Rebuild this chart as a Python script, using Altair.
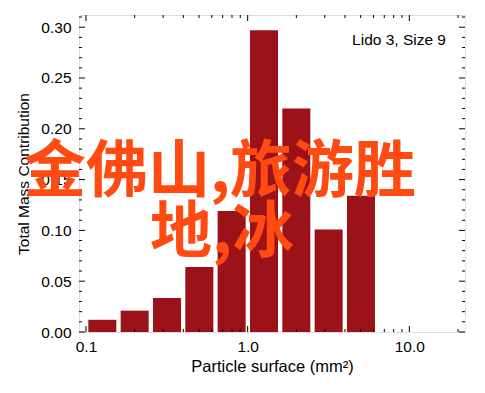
import altair as alt
import pandas as pd

# ---- data ----
bin_lo = [0.1, 0.1585, 0.2512, 0.3981, 0.631, 1.0, 1.585, 2.512, 3.981]
bin_hi = [0.1585, 0.2512, 0.3981, 0.631, 1.0, 1.585, 2.512, 3.981, 6.31]
mass = [0.012, 0.021, 0.0335, 0.064, 0.119, 0.297, 0.220, 0.101, 0.134]

x_major = [0.1, 1.0, 10.0]
x_minor = [0.2, 0.3, 0.4, 0.5, 0.6, 0.7, 0.8, 0.9, 2, 3, 4, 5, 6, 7, 8, 9, 20]
y_major = [0.0, 0.05, 0.10, 0.15, 0.20, 0.25, 0.30]
y_minor = [0.01, 0.02, 0.03, 0.04, 0.06, 0.07, 0.08, 0.09, 0.11, 0.12, 0.13, 0.14,
           0.16, 0.17, 0.18, 0.19, 0.21, 0.22, 0.23, 0.24, 0.26, 0.27, 0.28, 0.29, 0.31]

label_text = "Lido 3, Size 9"
overlay_line1 = "金佛山,旅游胜"
overlay_line2 = "地,冰"

W, H = 386, 317
FONT = "Liberation Sans"
BAR_COLOR = "#9b1318"

xscale = alt.Scale(type="log", domain=[0.0905, 22.1], nice=False)
yscale = alt.Scale(domain=[0, 0.312], nice=False)

xaxis = alt.Axis(values=x_major, format=".1f", ticks=False, tickSize=0,
                 domain=False, grid=False, labelFontSize=15.5, labelFont=FONT,
                 labelColor="black", labelPadding=7,
                 title="Particle surface (mm²)", titleFont=FONT,
                 titleFontSize=16.5, titleFontWeight="normal",
                 titleColor="black", titlePadding=4)
yaxis = alt.Axis(values=y_major, format=".2f", ticks=False, tickSize=0,
                 domain=False, grid=False, labelFontSize=15.5, labelFont=FONT,
                 labelColor="black", labelPadding=8,
                 title="Total Mass Contribution", titleFont=FONT,
                 titleFontSize=15.5, titleFontWeight="normal",
                 titleColor="black", titlePadding=9)

df = pd.DataFrame({"lo": bin_lo, "hi": bin_hi, "mass": mass})

bars = alt.Chart(df).mark_bar(color=BAR_COLOR, xOffset=2.3, x2Offset=-2).encode(
    x=alt.X("lo:Q", scale=xscale, axis=xaxis),
    x2="hi:Q",
    y=alt.Y("mass:Q", scale=yscale, axis=yaxis),
    y2=alt.Y2(datum=0),
)


def xticks(vals, length):
    d = pd.DataFrame({"v": vals})
    bottom = alt.Chart(d).mark_rule(color="black", strokeWidth=1).encode(
        x=alt.X("v:Q", scale=xscale, axis=xaxis),
        y=alt.value(H), y2=alt.value(H - length))
    top = alt.Chart(d).mark_rule(color="black", strokeWidth=1).encode(
        x=alt.X("v:Q", scale=xscale, axis=xaxis),
        y=alt.value(0), y2=alt.value(length))
    return [bottom, top]


def yticks(vals, length):
    d = pd.DataFrame({"v": vals})
    left = alt.Chart(d).mark_rule(color="black", strokeWidth=1).encode(
        y=alt.Y("v:Q", scale=yscale, axis=yaxis),
        x=alt.value(0), x2=alt.value(length))
    right = alt.Chart(d).mark_rule(color="black", strokeWidth=1).encode(
        y=alt.Y("v:Q", scale=yscale, axis=yaxis),
        x=alt.value(W), x2=alt.value(W - length))
    return [left, right]


ticks = (xticks(x_major, 6) + xticks(x_minor, 3)
         + yticks(y_major, 6) + yticks(y_minor, 3))

lido = alt.Chart(pd.DataFrame({"t": [label_text]})).mark_text(
    align="right", baseline="middle", font=FONT, fontSize=15.5, color="black"
).encode(x=alt.value(W - 19), y=alt.value(25), text="t:N")

ov = pd.DataFrame({"t": [overlay_line1]})
ov2 = pd.DataFrame({"t": [overlay_line2]})
over1 = alt.Chart(ov).mark_text(
    align="center", baseline="middle", font="Noto Sans CJK SC", fontWeight="bold",
    fontSize=62, color="#ff4a12"
).encode(x=alt.value(141), y=alt.value(158), text="t:N")
over2 = alt.Chart(ov2).mark_text(
    align="center", baseline="middle", font="Noto Sans CJK SC", fontWeight="bold",
    fontSize=62, color="#ff4a12"
).encode(x=alt.value(143), y=alt.value(219), text="t:N")

chart = alt.layer(bars, *ticks, lido, over1, over2).properties(
    width=W, height=H,
    autosize=alt.AutoSizeParams(type="none"),
    padding={"left": 71, "top": 7, "right": 12, "bottom": 53},
).configure_view(stroke="black", strokeWidth=1.5).configure(background="white")

chart.save("out.html", embed_options={"renderer": "svg", "actions": False})
